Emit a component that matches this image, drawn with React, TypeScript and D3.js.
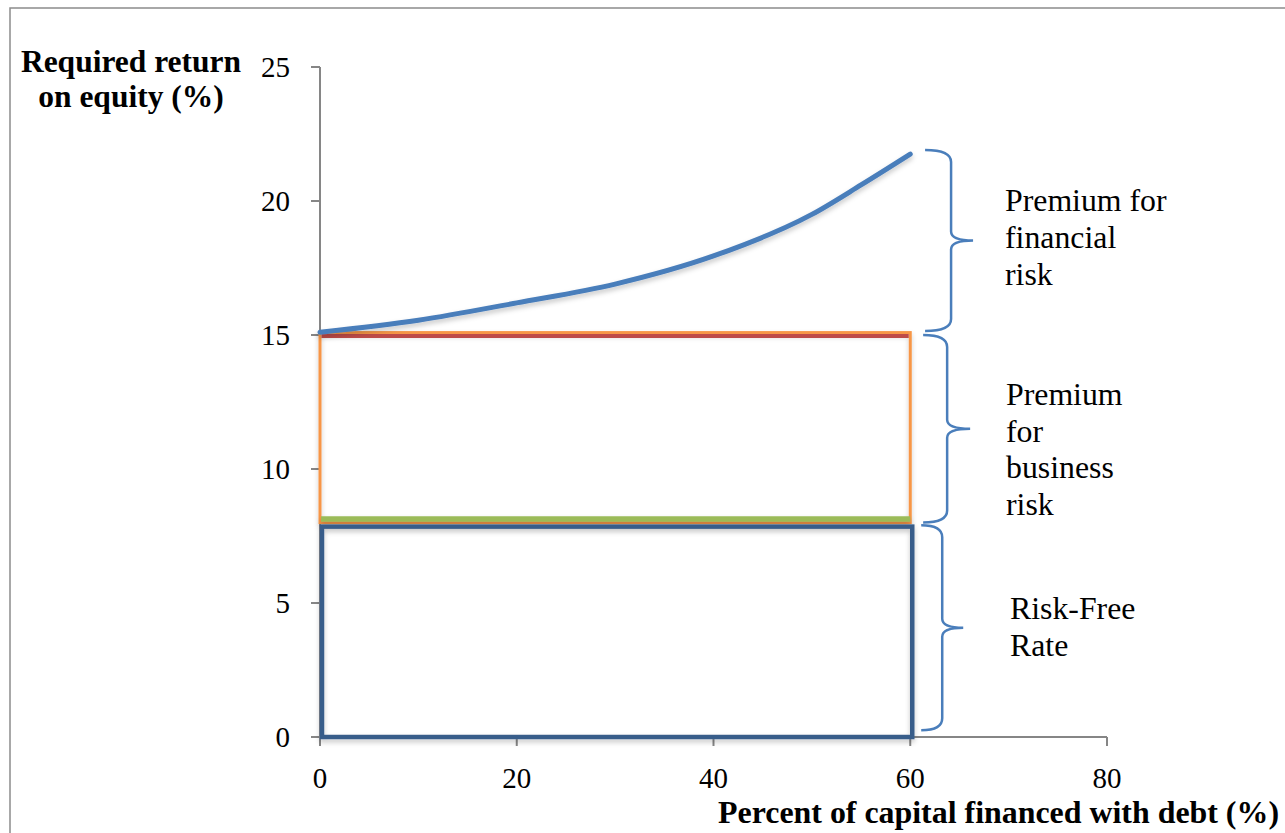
import React from "react";
import * as d3 from "d3";

// ---- data ----
const debtPct = [0, 10, 20, 30, 40, 50, 55, 60];
const requiredReturn = [15.1, 15.55, 16.2, 16.9, 17.95, 19.5, 20.6, 21.75];

const xTicks = [0, 20, 40, 60, 80];
const yTicks = [0, 5, 10, 15, 20, 25];

const debtEnd = 60;
const unleveredCost = 15; // cost of equity with no debt
const businessBandTop = 15.09;
const riskFreeRate = 8; // top of risk-free band
const riskFreeBoxTop = 7.85;

const braceTop = [21.9, 15.0, 7.9];
const braceBottom = [15.15, 8.0, 0.25];
const braceX = [64.15, 63.75, 63.25];
const braceLabels = [
  ["Premium for", "financial", "risk"],
  ["Premium", "for", "business", "risk"],
  ["Risk-Free", "Rate"],
];
const braceLabelTop = [19.63, 12.39, 4.4];

const yTitle = ["Required return", "on equity (%)"];
const xTitle = "Percent of capital financed with debt (%)";

export default function App() {
  const x = d3.scaleLinear().domain([0, 80]).range([320, 1107]);
  const y = d3.scaleLinear().domain([0, 25]).range([737, 67]);
  const axisColor = "#868686";
  const serif = "'Liberation Serif', 'Times New Roman', serif";

  const line = d3
    .line<number>()
    .x((_, i) => x(debtPct[i]))
    .y((d) => y(d))
    .curve(d3.curveMonotoneX);

  const bracePath = (top: number, bottom: number, bx: number, tipW: number, ptW: number) => {
    const t = y(top);
    const b = y(bottom);
    const vx = x(bx);
    const m = (t + b) / 2;
    return `M${vx - tipW},${t} Q${vx},${t} ${vx},${t + 12} L${vx},${m - 9} Q${vx},${m} ${vx + ptW},${m} Q${vx},${m} ${vx},${m + 9} L${vx},${b - 12} Q${vx},${b} ${vx - tipW},${b}`;
  };
  const tipWs = [26, 24, 21];
  const ptWs = [22, 23, 21];
  const labelX = [1005, 1006, 1010];
  const lineGap = [37, 36.7, 37];

  return (
    <svg
      width={1285}
      height={833}
      style={{ position: "absolute", left: 0, top: 0, background: "#fff" }}
      fontFamily={serif}
    >
      <defs>
        <filter id="shadow" filterUnits="userSpaceOnUse" x={0} y={0} width={1285} height={833}>
          <feDropShadow dx="0" dy="3" stdDeviation="2.5" floodColor="#000" floodOpacity="0.22" />
        </filter>
      </defs>
      <rect x={10} y={8} width={1280} height={840} fill="none" stroke="#8c8c8c" strokeWidth={1.5} />

      {/* axes */}
      <line x1={x(0)} x2={x(0)} y1={y(0)} y2={y(25)} stroke={axisColor} strokeWidth={2} />
      <line x1={x(0)} x2={x(80)} y1={y(0)} y2={y(0)} stroke={axisColor} strokeWidth={2} />
      {yTicks.map((t) => (
        <g key={"y" + t}>
          <line x1={x(0) - 9} x2={x(0)} y1={y(t)} y2={y(t)} stroke={axisColor} strokeWidth={2} />
          <text x={290} y={y(t)} dy="0.35em" textAnchor="end" fontSize={29} fill="#000">
            {t}
          </text>
        </g>
      ))}
      {xTicks.map((t) => (
        <g key={"x" + t}>
          <line x1={x(t)} x2={x(t)} y1={y(0)} y2={y(0) + 9} stroke={axisColor} strokeWidth={2} />
          <text x={x(t)} y={788} textAnchor="middle" fontSize={29} fill="#000">
            {t}
          </text>
        </g>
      ))}

      {/* business risk band (orange) */}
      <rect
        x={x(0)}
        y={y(businessBandTop)}
        width={x(debtEnd) - x(0)}
        height={y(riskFreeRate) - y(businessBandTop)}
        fill="none"
        stroke="#F79646"
        strokeWidth={3}
        filter="url(#shadow)"
      />
      <line
        x1={x(0) + 1.5}
        x2={x(debtEnd) - 1.5}
        y1={y(unleveredCost) + 1}
        y2={y(unleveredCost) + 1}
        stroke="#BE4B48"
        strokeWidth={4}
      />
      <line
        x1={x(0) + 1}
        x2={x(debtEnd)}
        y1={y(riskFreeRate + 0.13)}
        y2={y(riskFreeRate + 0.13)}
        stroke="#9BBB59"
        strokeWidth={5.5}
        filter="url(#shadow)"
      />
      {/* risk-free box */}
      <rect
        x={x(0) + 2}
        y={y(riskFreeBoxTop)}
        width={x(debtEnd) - x(0)}
        height={y(0) - y(riskFreeBoxTop)}
        fill="none"
        stroke="#385D8A"
        strokeWidth={4.5}
        filter="url(#shadow)"
      />

      {/* required return curve */}
      <path
        d={line(requiredReturn) || ""}
        fill="none"
        stroke="#4A7EBB"
        strokeWidth={5}
        strokeLinecap="round"
        filter="url(#shadow)"
      />

      {/* braces */}
      {braceTop.map((bt, i) => (
        <path
          key={"b" + i}
          d={bracePath(bt, braceBottom[i], braceX[i], tipWs[i], ptWs[i])}
          fill="none"
          stroke="#4A7EBB"
          strokeWidth={2.5}
        />
      ))}
      {braceLabels.map((lines, i) => (
        <text key={"l" + i} x={labelX[i]} y={y(braceLabelTop[i])} fontSize={31.8} fill="#000">
          {lines.map((s, j) => (
            <tspan key={j} x={labelX[i]} dy={j === 0 ? 0 : lineGap[i]}>
              {s}
            </tspan>
          ))}
        </text>
      ))}

      {/* titles */}
      {yTitle.map((s, i) => (
        <text
          key={"yt" + i}
          x={131}
          y={i === 0 ? 72 : 107}
          textAnchor="middle"
          fontSize={31.5}
          fontWeight="bold"
          fill="#000"
        >
          {s}
        </text>
      ))}
      <text x={1279} y={823} textAnchor="end" fontSize={31.9} fontWeight="bold" fill="#000">
        {xTitle}
      </text>
    </svg>
  );
}
